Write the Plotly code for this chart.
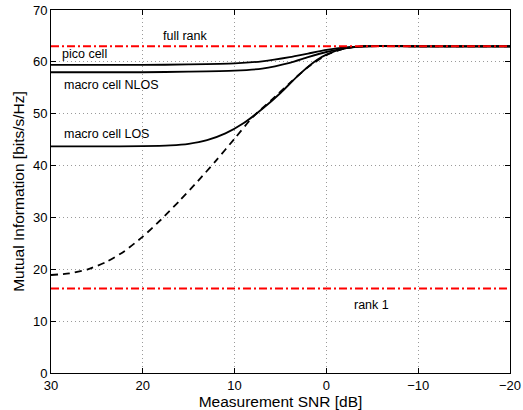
import plotly.graph_objects as go

snr_pico = [30, 20, 15, 10, 7, 4, 2, 0, -2, -4, -10, -20]
mi_pico = [59.4, 59.4, 59.5, 59.7, 60.1, 60.9, 61.6, 62.3, 62.8, 63.0, 63.0, 63.0]

snr_nlos = [30, 20, 15, 10, 7, 4, 2, 0, -2, -4, -10, -20]
mi_nlos = [58.0, 58.0, 58.1, 58.3, 58.7, 59.8, 60.9, 61.9, 62.6, 63.0, 63.0, 63.0]

snr_los = [30, 25, 20, 17, 15, 13, 11, 9, 7, 5, 3, 1, 0, -2, -4, -10, -20]
mi_los = [43.7, 43.7, 43.75, 43.9, 44.2, 44.9, 46.2, 48.2, 50.9, 54.0, 57.5, 60.4, 61.4, 62.6, 63.0, 63.0, 63.0]

snr_dash = [30, 28, 26, 24, 22, 20, 18, 16, 14, 12, 10, 8, 6, 4, 2, 0, -2, -4, -10, -20]
mi_dash = [18.9, 19.2, 20.0, 21.4, 23.5, 26.3, 29.6, 33.2, 37.0, 41.0, 45.2, 49.4, 52.6, 55.9, 59.0, 61.3, 62.6, 63.0, 63.0, 63.0]

full_rank = 63.0
rank_one = 16.3
x_range = [30, -20]

fig = go.Figure()
for xs, ys, dash in [(snr_pico, mi_pico, "solid"), (snr_nlos, mi_nlos, "solid"),
                     (snr_los, mi_los, "solid"), (snr_dash, mi_dash, "7px,5px")]:
    fig.add_trace(go.Scatter(x=xs, y=ys, mode="lines",
                             line=dict(color="black", width=1.8, dash=dash, shape="spline", smoothing=0.6),
                             showlegend=False))
for val in [full_rank, rank_one]:
    fig.add_trace(go.Scatter(x=x_range, y=[val, val], mode="lines",
                             line=dict(color="red", width=2, dash="8px,3px,2px,3px"),
                             showlegend=False))

fam = "Liberation Sans, Arial, sans-serif"
ann_font = dict(family=fam, size=12.5, color="black")
tick_font = dict(family=fam, size=13, color="black")
title_font = dict(family=fam, size=15.5, color="black")
labels = [(15.3, 65.0, "full rank"), (26.35, 61.5, "pico cell"), (23.5, 55.5, "macro cell NLOS"),
          (24.0, 46.1, "macro cell LOS"), (-4.9, 13.1, "rank 1")]
for x, y, t in labels:
    fig.add_annotation(x=x, y=y, text=t, showarrow=False, font=ann_font, xanchor="center", yanchor="middle")

axis_common = dict(showline=True, linecolor="black", linewidth=1, mirror="ticks",
                   ticks="inside", ticklen=5, tickcolor="black",
                   showgrid=True, gridcolor="#9a9a9a", griddash="1px,3px", gridwidth=1,
                   zeroline=False, tickfont=tick_font, automargin=False)
fig.update_xaxes(range=x_range, tickvals=[30, 20, 10, 0, -10, -20],
                 ticktext=["30", "20", "10", "0", "\u221210", "\u221220"],
                 title=dict(text="Measurement SNR [dB]", font=title_font, standoff=0), **axis_common)
fig.update_yaxes(range=[0, 70], tickvals=[0, 10, 20, 30, 40, 50, 60, 70],
                 title=dict(text="Mutual Information [bits/s/Hz]", font=title_font, standoff=4), **axis_common)
fig.update_layout(width=523, height=410, margin=dict(l=51, r=13, t=10, b=37),
                  plot_bgcolor="white", paper_bgcolor="white", font=tick_font)
fig.write_html("out.html")
